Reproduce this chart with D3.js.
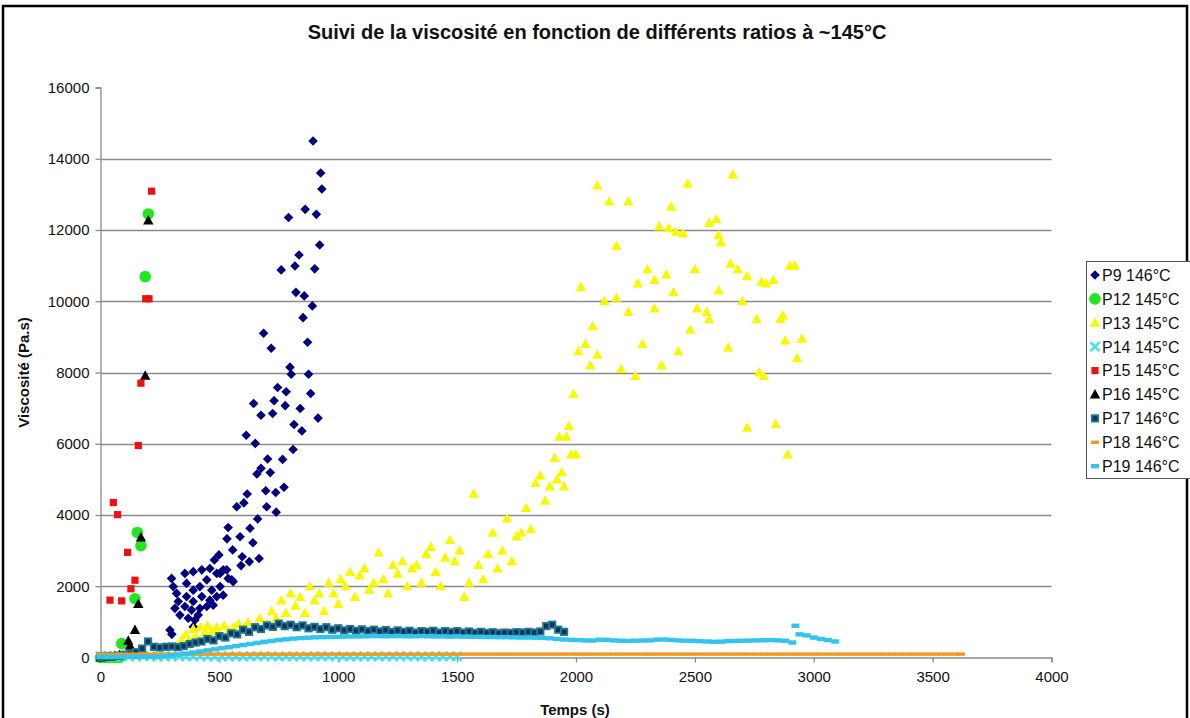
<!DOCTYPE html>
<html><head><meta charset="utf-8">
<script src="https://cdn.jsdelivr.net/npm/d3@7/dist/d3.min.js"></script>
<style>body{margin:0;background:#fff;}svg{display:block;font-family:"Liberation Sans",Arial,sans-serif;}</style>
</head><body><svg id="c" width="1190" height="718"></svg>
<script>
// ---------- DATA ----------
const xTicks = [0,500,1000,1500,2000,2500,3000,3500,4000];
const yTicks = [0,2000,4000,6000,8000,10000,12000,14000,16000];
const seriesNames = ["P9 146°C","P12 145°C","P13 145°C","P14 145°C","P15 145°C","P16 145°C","P17 146°C","P18 146°C","P19 146°C"];

const p9 = [[894,14500],[926,13600],[931,13150],[861,12580],[791,12350],[908,12440],[922,11580],[835,11300],[760,10880],[818,10990],[901,10910],[822,10250],[857,10150],[891,9870],[852,9540],[686,9100],[718,8680],[871,8850],[797,8150],[802,7950],[875,7950],[745,7580],[781,7460],[884,7410],[644,7130],[730,7210],[675,6800],[724,6850],[777,7070],[840,6990],[915,6720],[814,6540],[847,6360],[613,6240],[651,6010],[810,5840],[703,5570],[766,5560],[675,5310],[658,5150],[714,5190],[695,4680],[737,4630],[772,4780],[617,4590],[699,4230],[739,4080],[573,4230],[603,4340],[661,3890],[537,3650],[629,3630],[587,3390],[641,3220],[532,3330],[556,3020],[498,2880],[667,2780],[596,2830],[626,2690],[479,2740],[591,2580],[531,2460],[503,2360],[552,2180],[292,770],[299,2220],[306,1990],[320,1800],[327,1570],[313,1380],[334,1190],[355,2360],[390,2410],[426,2460],[460,2500],[489,2360],[516,2460],[537,2220],[558,2130],[362,2080],[390,1890],[418,1990],[447,2180],[468,1890],[503,1990],[362,1710],[390,1570],[426,1710],[460,1610],[489,1710],[516,1750],[355,1430],[383,1330],[418,1380],[447,1430],[474,1470],[369,1100],[397,1050],[411,1190],[390,860],[300,650]];

const p12 = [[0,0],[20,0],[40,0],[60,0],[80,0],[89,390],[145,1650],[155,3510],[170,3140],[188,10690],[201,12450]];

const p13 = [[2090,13250],[2140,12800],[2220,12800],[2400,12650],[2470,13300],[2660,13550],[2170,11550],[2350,12100],[2390,12050],[2420,11950],[2450,11900],[2560,12200],[2590,12300],[2600,11850],[2610,11650],[2020,10400],[2120,10000],[2170,10100],[2220,9700],[2260,10500],[2300,10900],[2330,10600],[2380,10750],[2410,10250],[2500,10900],[2550,9700],[2600,10300],[2650,11050],[2680,10900],[2700,10000],[2720,10700],[2780,10550],[2800,10500],[2830,10600],[2860,9500],[2870,9600],[2880,8900],[2900,11000],[2920,11000],[2930,8400],[2950,8950],[2480,9200],[2510,9800],[2560,9500],[2640,8700],[2760,9500],[2790,7900],[2770,8000],[2720,6450],[2840,6550],[2890,5700],[2040,8800],[2060,8200],[2070,9300],[2090,8500],[2190,8100],[2250,7900],[2280,8800],[2330,9800],[2360,8200],[2430,8600],[1990,7400],[2010,8600],[1960,6200],[1970,6500],[1980,5700],[2000,5700],[1920,5000],[1940,5200],[1950,4800],
[320,300],[340,500],[360,650],[370,450],[390,800],[400,600],[420,850],[440,700],[450,900],[470,750],[490,850],[500,650],[520,900],[540,750],[560,850],[580,950],[600,800],[620,1000],[650,850],[670,1100],[700,950],[720,1300],[740,1100],[760,1600],[780,1250],[800,1800],[820,1450],[840,1700],[860,1250],[880,2000],[900,1600],[920,1800],[940,1300],[960,2100],[980,1800],[1000,1500],[1010,2200],[1030,2000],[1050,2400],[1070,1700],[1090,2300],[1110,2500],[1130,1900],[1150,2100],[1170,2950],[1190,2200],[1210,1800],[1230,2600],[1250,2350],[1270,2700],[1290,2000],[1310,2500],[1330,2600],[1350,2100],[1370,2900],[1390,3100],[1410,2400],[1430,2000],[1450,2800],[1470,3300],[1490,2700],[1510,3000],[1530,1700],[1550,2100],[1570,4600],[1590,2600],[1610,2200],[1630,2900],[1650,3500],[1670,2500],[1690,3000],[1710,3900],[1730,2700],[1750,3400],[1770,3500],[1790,4200],[1810,3600],[1830,4900],[1850,5100],[1870,4400],[1890,4800],[1910,5600],[1930,6200]];

const p15 = [[40,1610],[89,1590],[54,4350],[72,4010],[114,2950],[128,1930],[145,2170],[159,5950],[170,7700],[190,10070],[204,10070],[215,13090]];

const p16 = [[0,0],[20,20],[40,30],[60,40],[80,60],[117,470],[124,330],[145,770],[159,1500],[170,3370],[188,7910],[201,12270]];

// dense series: one reading every DT seconds, starting at t = 0
const p14DT = 30;
const p14 = [30,30,25,30,30,35,30,30,25,30,30,30,35,30,30,30,25,30,30,30,30,35,30,30,30,25,30,30,30,30,30,35,30,30,30,25,30,30,30,30,30,30,35,30,30,30,25,30,30,30,30];

const p17DT = 25;
const p17 = [20,30,40,50,80,100,150,250,450,300,280,300,310,290,320,380,420,450,520,480,600,560,680,650,780,720,850,800,900,860,950,880,920,850,900,820,860,800,850,780,820,760,800,750,790,740,780,730,770,720,760,720,750,700,740,720,750,700,740,710,740,700,730,690,720,690,710,680,700,690,710,700,720,700,730,880,920,780,720];

const p18DT = 30;
const p18 = [95,95,95,95,95,95,95,95,95,95,95,95,95,95,95,95,95,95,95,95,95,95,95,95,95,95,95,95,95,95,95,95,95,95,95,95,95,95,95,95,95,95,95,95,95,95,95,95,95,95,95,95,95,95,95,95,95,95,95,95,95,95,95,95,95,95,95,95,95,95,95,95,95,95,95,95,95,95,95,95,95,95,95,95,95,95,95,95,95,95,95,95,95,95,95,95,95,95,95,95,95,95,95,95,95,95,95,95,95,95,95,95,95,95,95,95,95,95,95,95,95];
const p18Last = [[3619,95]];

const p19DT = 30;
const p19 = [20,20,20,20,20,20,20,20,20,
  40,60,80,110,140,170,200,230,260,290,320,350,380,410,440,465,490,510,530,545,555,565,570,575,580,
  585,590,590,595,600,600,595,600,600,595,595,600,595,590,590,585,590,
  585,580,580,575,575,570,570,565,560,560,
  555,550,540,520,505,495,
  490,480,475,500,495,480,470,465,470,475,480,500,505,495,480,470,470,
  460,450,440,445,460,465,470,475,480,485,490,480,470,
  420,650,620,560,520,490,450];
const p19Extra = [[2923,890]];

// ---------- LAYOUT ----------
const svg = d3.select("#c");
const X0 = 100.5, X1 = 1051.5, Y0 = 657.5, Y1 = 87.5;
const x = d3.scaleLinear().domain([0,4000]).range([X0,X1]);
const y = d3.scaleLinear().domain([0,16000]).range([Y0,Y1]);
const grey = "#8a8a8a";
const FONT = "Liberation Sans, Arial, sans-serif";

svg.append("rect").attr("x",3).attr("y",6).attr("width",1184).attr("height",730)
  .attr("fill","#fff").attr("stroke","#000").attr("stroke-width",2.5);

svg.append("text").attr("x",597).attr("y",39).attr("text-anchor","middle")
  .attr("font-size",20).attr("font-weight","bold").attr("fill","#111")
  .text("Suivi de la viscosité en fonction de différents ratios à ~145°C");

// gridlines
svg.append("g").selectAll("line").data(yTicks.filter(v=>v>0 && v<16000)).join("line")
  .attr("x1",X0).attr("x2",X1).attr("y1",d=>Math.round(y(d))+0.5).attr("y2",d=>Math.round(y(d))+0.5)
  .attr("stroke",grey).attr("stroke-width",1.3);

// axes
const yAxis = svg.append("g").attr("transform",`translate(${X0},0)`)
  .call(d3.axisLeft(y).tickValues(yTicks).tickSize(5).tickPadding(6).tickFormat(d3.format("d")));
const xAxis = svg.append("g").attr("transform",`translate(0,${Y0})`)
  .call(d3.axisBottom(x).tickValues(xTicks).tickSize(5).tickPadding(9).tickFormat(d3.format("d")));
[yAxis,xAxis].forEach(a=>{
  a.selectAll("path,line").attr("stroke",grey).attr("stroke-width",1.3);
  a.selectAll("text").attr("font-size",15).attr("fill","#111").attr("font-family",FONT);
});

svg.append("text").attr("transform",`translate(29,${(Y0+Y1)/2}) rotate(-90)`)
  .attr("text-anchor","middle").attr("font-size",15).attr("font-weight","bold").attr("fill","#111")
  .text("Viscosité (Pa.s)");
svg.append("text").attr("x",575).attr("y",715).attr("text-anchor","middle")
  .attr("font-size",15).attr("font-weight","bold").attr("fill","#111").text("Temps (s)");

// ---------- MARKERS ----------
const sym = {
  diamond: (g,c)=>g.append("path").attr("d","M0,-4.8L4.8,0L0,4.8L-4.8,0Z").attr("fill",c),
  circle: (g,c)=>g.append("circle").attr("r",5.8).attr("fill",c),
  tri: (g,c)=>g.append("path").attr("d","M0,-5.5L5.2,4L-5.2,4Z").attr("fill",c),
  cross: (g,c)=>g.append("path").attr("d","M-4.5,-4.5L4.5,4.5M-4.5,4.5L4.5,-4.5").attr("stroke",c).attr("stroke-width",2.6).attr("fill","none"),
  square: (g,c)=>g.append("rect").attr("x",-3.6).attr("y",-3.6).attr("width",7.2).attr("height",7.2).attr("fill",c),
  sq17: (g,c)=>g.append("rect").attr("x",-3.2).attr("y",-3.2).attr("width",6.4).attr("height",6.4).attr("fill","#10306a").attr("stroke",c).attr("stroke-width",1.8),
  dash: (g,c)=>g.append("rect").attr("x",-4).attr("y",-1.7).attr("width",8).attr("height",3.4).attr("fill",c),
  dash19: (g,c)=>g.append("rect").attr("x",-4).attr("y",-2.2).attr("width",8).attr("height",4.4).attr("fill",c)
};

const dense = (vals,dt)=>vals.map((v,i)=>[i*dt,v]);
const series = [
  {data:p9, m:"diamond", c:"#00007f"},
  {data:p12, m:"circle", c:"#22e622"},
  {data:p13, m:"tri", c:"#f8f800"},
  {data:dense(p14,p14DT), m:"cross", c:"#3fe3f3"},
  {data:p15, m:"square", c:"#ee1111"},
  {data:p16, m:"tri", c:"#000000"},
  {data:dense(p17,p17DT), m:"sq17", c:"#207a8a"},
  {data:dense(p18,p18DT).concat(p18Last), m:"dash", c:"#f39a1e"},
  {data:dense(p19,p19DT).concat(p19Extra), m:"dash19", c:"#33c4ee"}
];

const plot = svg.append("g");
series.forEach(s=>{
  const g = plot.append("g");
  s.data.forEach(d=>{
    const mg = g.append("g").attr("transform",`translate(${x(d[0])},${y(d[1])})`);
    sym[s.m](mg,s.c);
  });
});

// ---------- LEGEND ----------
const lg = svg.append("g");
lg.append("rect").attr("x",1086.5).attr("y",261.5).attr("width",110).attr("height",217)
  .attr("fill","#fff").attr("stroke","#555").attr("stroke-width",1);
series.forEach((s,i)=>{
  const yy = 275 + i*23.9;
  const mg = lg.append("g").attr("transform",`translate(1095,${yy})`);
  sym[s.m](mg,s.c);
  lg.append("text").attr("x",1102).attr("y",yy+5.8).attr("font-size",16).attr("fill","#111").text(seriesNames[i]);
});
</script></body></html>
